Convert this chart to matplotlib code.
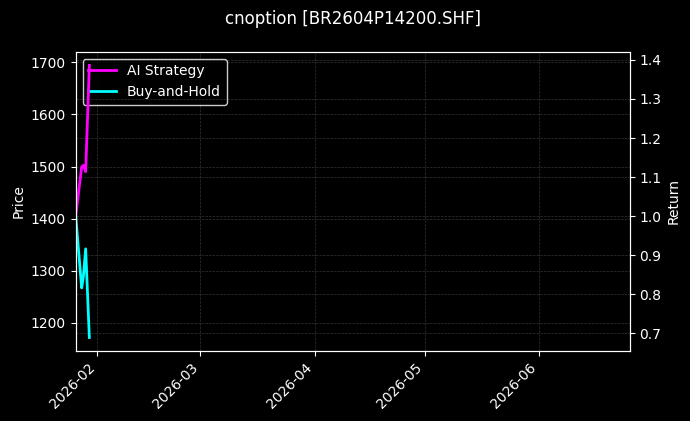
import matplotlib
matplotlib.use("Agg")
import matplotlib.pyplot as plt
import matplotlib.dates as mdates
import pandas as pd

plt.style.use("dark_background")

# Data
timestamps = ["2026-01-26 03:00", "2026-01-27 18:00", "2026-01-28 05:00",
              "2026-01-28 20:00", "2026-01-29 20:00"]
ai_strategy = [1.000, 1.126, 1.130, 1.114, 1.386]
buy_and_hold = [1.000, 0.816, 0.845, 0.916, 0.689]
price_range = [1172, 1694]
x_range = ["2026-01-26 03:00", "2026-06-25 14:00"]
title = "cnoption [BR2604P14200.SHF]"

dates = pd.to_datetime(timestamps)

fig = plt.figure(figsize=(6.9, 4.21), dpi=100)
fig.patch.set_facecolor("black")
ax1 = fig.add_axes([0.1097, 0.166, 0.8029, 0.711])
ax1.set_facecolor("black")
ax2 = ax1.twinx()

l1, = ax2.plot(dates, ai_strategy, color="#ff00ff", linewidth=2, label="AI Strategy")
l2, = ax2.plot(dates, buy_and_hold, color="#00ffff", linewidth=2, label="Buy-and-Hold")

pad = (price_range[1] - price_range[0]) * 0.05
ax1.set_ylim(price_range[0] - pad, price_range[1] + pad)
ax1.set_xlim(pd.to_datetime(x_range[0]), pd.to_datetime(x_range[1]))

ax1.set_ylabel("Price", color="white")
ax2.set_ylabel("Return", color="white")
ax1.set_title(title, color="white", fontsize=12, pad=20)

ax1.xaxis.set_major_locator(mdates.MonthLocator())
ax1.xaxis.set_major_formatter(mdates.DateFormatter("%Y-%m"))
for lbl in ax1.get_xticklabels():
    lbl.set_rotation(45)
    lbl.set_ha("right")

ax1.grid(True, linestyle="--", linewidth=0.5, color="gray", alpha=0.4)
ax2.grid(True, linestyle="--", linewidth=0.5, color="gray", alpha=0.4)

leg = ax1.legend(handles=[l1, l2], loc="upper left", facecolor="black",
                 edgecolor="white", framealpha=0.8)

fig.savefig("out.png", dpi=100, facecolor="black")
